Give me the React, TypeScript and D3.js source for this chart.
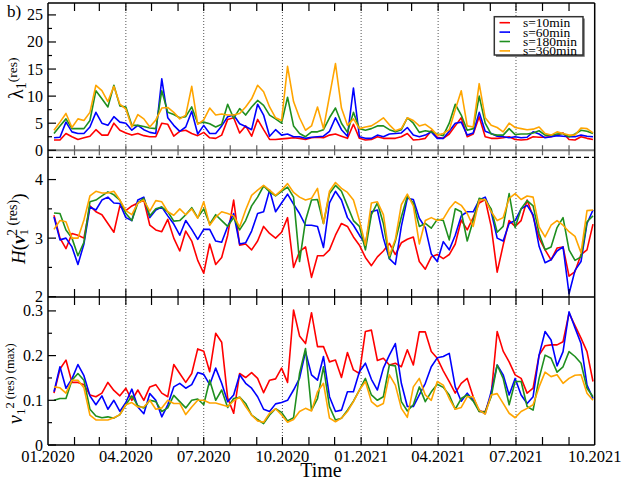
import React from 'react';
import * as d3 from 'd3';

// weekly samples starting 08.01.2020
const START = Date.UTC(2020, 0, 8);
const STEP = 7 * 864e5;

// panel 1: lambda_1^(res)
const lambdaRed = [1.9,1.9,3.1,2.5,2.0,2.3,2.6,3.8,2.8,2.8,
  5.0,3.7,3.2,2.8,3.1,2.7,2.5,2.5,5.0,4.8,
  2.6,3.5,3.7,3.1,2.7,3.3,2.3,2.2,2.8,5.7,
  6.0,3.2,4.5,2.6,5.7,3.8,2.0,2.0,2.1,2.2,
  2.3,2.2,2.0,2.3,2.4,2.3,2.8,3.0,2.6,2.2,
  4.8,2.2,1.9,2.0,2.5,2.2,2.2,2.2,2.5,3.1,
  1.9,2.0,2.2,3.6,2.4,2.2,3.0,4.5,6.0,2.5,
  3.0,6.2,2.5,2.2,2.2,2.3,2.5,2.0,1.9,2.0,
  2.5,2.4,2.4,2.5,2.8,3.2,2.0,1.9,2.5,2.2,
  2.0];
const lambdaBlue = [2.3,2.4,5.2,3.4,3.1,3.1,4.3,7.0,5.0,4.6,
  6.2,5.2,5.0,3.7,4.6,3.8,3.3,3.1,13.2,6.0,
  4.6,3.5,4.3,7.2,3.0,4.6,3.1,3.1,4.5,6.2,
  6.5,4.9,4.4,3.8,8.5,6.5,2.6,3.8,2.8,3.0,
  2.5,2.5,2.2,2.4,2.5,2.6,3.5,6.0,3.8,2.6,
  11.5,2.5,2.2,2.2,2.8,2.5,3.0,3.1,3.2,4.2,
  2.8,2.5,2.8,3.4,2.2,2.2,3.5,5.0,5.2,2.8,
  3.2,7.0,3.5,3.1,2.6,2.5,2.3,2.5,2.3,2.4,
  3.4,3.0,2.3,2.5,2.7,2.6,2.5,2.5,2.8,2.6,
  2.5];
const lambdaGreen = [3.1,4.5,5.8,4.0,4.0,4.0,5.5,11.0,9.5,8.0,
  12.0,8.2,8.0,4.6,4.6,4.4,4.1,4.0,11.0,7.0,
  6.6,6.0,6.2,8.0,5.0,5.2,4.9,4.3,4.8,8.5,
  5.9,7.7,6.5,8.0,9.2,8.3,6.5,5.8,5.0,9.8,
  4.5,3.1,2.5,3.4,3.4,3.8,6.0,7.8,5.0,3.3,
  7.0,4.0,3.7,4.0,4.5,4.5,3.8,3.4,3.8,6.0,
  5.0,3.3,3.6,3.4,3.0,2.7,5.0,8.5,6.5,3.7,
  4.0,10.0,5.0,3.0,2.8,2.8,4.0,2.9,3.0,3.0,
  3.2,3.6,2.8,2.8,3.0,3.1,2.5,3.0,3.7,3.5,
  3.1];
const lambdaOrange = [3.7,5.2,6.8,4.2,5.8,5.5,7.0,12.0,11.0,9.0,
  11.8,8.5,7.6,4.3,6.6,5.8,4.3,5.6,7.8,7.9,
  7.0,5.8,6.5,11.8,4.8,5.6,7.8,6.5,6.7,6.5,
  6.5,6.8,8.0,9.5,12.0,10.8,8.0,6.0,5.5,15.5,
  9.0,6.0,3.7,4.5,8.0,4.0,10.0,16.0,7.8,4.6,
  5.8,4.0,4.3,4.5,5.2,6.0,4.7,3.6,4.0,6.0,
  5.5,4.5,4.8,4.0,2.8,3.1,3.8,7.5,11.0,4.5,
  4.3,12.3,6.0,4.6,4.2,3.4,5.0,4.2,4.0,3.8,
  3.9,4.3,3.1,2.8,3.4,3.1,2.8,2.8,4.1,4.0,
  3.2];

// panel 2: H(v_1^2 (res))
const hRed = [3.39,3.0,2.82,3.08,3.05,3.0,3.55,3.45,3.4,3.25,
  3.1,3.55,3.47,3.55,3.6,3.65,3.22,3.14,3.11,3.32,
  3.0,2.78,3.12,2.95,2.62,2.4,2.9,2.55,2.67,3.05,
  3.65,2.88,2.9,2.8,2.95,3.2,3.08,3.0,3.1,3.35,
  2.5,2.77,2.85,2.33,2.7,2.7,2.8,3.05,3.25,3.2,
  3.02,2.88,2.67,2.53,2.68,2.78,2.91,2.72,2.92,2.98,
  3.02,2.6,2.47,2.68,2.72,2.65,2.72,2.9,3.31,3.14,
  3.35,3.6,3.66,3.2,2.42,2.88,3.3,3.2,3.3,3.65,
  3.37,3.0,2.8,2.63,2.83,2.85,2.35,2.43,2.72,2.8,
  3.24];
const hBlue = [3.36,2.97,3.0,2.85,2.55,2.9,3.53,3.48,3.65,3.7,
  3.6,3.59,3.35,3.3,3.65,3.7,3.35,3.48,3.53,3.38,
  3.24,3.05,3.3,3.15,2.98,3.15,3.15,2.95,2.93,3.2,
  3.42,2.9,2.92,3.12,3.42,3.45,3.82,3.45,3.6,3.75,
  3.58,3.42,3.22,3.22,3.2,2.84,3.6,3.8,3.65,3.35,
  3.22,3.05,2.9,3.45,3.48,3.0,2.65,2.55,3.2,3.68,
  3.66,3.34,3.18,2.73,2.6,2.94,2.8,3.05,3.38,3.45,
  3.45,3.65,3.7,3.45,3.0,2.95,3.25,3.3,3.5,3.56,
  3.4,2.86,2.58,2.63,2.78,2.85,2.05,2.45,2.6,3.25,
  3.48];
const hGreen = [3.43,3.42,3.14,3.0,2.7,2.93,3.62,3.65,3.72,3.79,
  3.74,3.65,3.42,3.3,3.6,3.68,3.38,3.5,3.53,3.45,
  3.29,3.3,3.4,3.52,3.35,3.5,3.24,3.4,3.3,3.2,
  3.35,3.14,3.3,3.55,3.7,3.89,3.79,3.72,3.8,3.87,
  3.7,2.6,3.3,3.65,3.66,3.25,3.76,3.9,3.8,3.55,
  3.3,3.2,2.8,3.4,3.6,3.25,2.65,2.95,3.36,3.72,
  3.6,3.2,3.25,3.17,3.32,3.3,2.97,3.5,3.45,2.95,
  3.3,3.68,3.65,3.5,3.1,3.2,3.76,3.18,3.5,3.64,
  3.55,3.08,2.8,2.85,3.18,3.35,2.8,2.62,2.68,3.28,
  3.38];
const hOrange = [3.15,3.3,3.28,3.0,3.0,3.31,3.72,3.8,3.77,3.77,
  3.8,3.65,3.47,3.4,3.6,3.65,3.46,3.64,3.62,3.45,
  3.39,3.5,3.4,3.5,3.34,3.62,3.22,3.36,3.45,3.42,
  3.38,3.19,3.48,3.73,3.82,3.9,3.82,3.73,3.82,3.93,
  3.78,3.7,3.65,3.68,3.85,3.25,3.8,3.95,3.85,3.78,
  3.65,3.3,2.88,3.6,3.62,3.4,2.7,2.98,3.57,3.75,
  3.55,2.9,3.3,3.35,3.3,3.33,3.5,3.62,3.56,3.42,
  3.2,3.65,3.66,3.45,3.3,3.35,3.68,3.76,3.66,3.72,
  3.7,3.19,3.02,3.22,3.3,3.22,3.11,3.03,2.75,3.47,
  3.48];

// panel 3: v_1^2 (res) (max)
const vRed = [0.116,0.17,0.19,0.14,0.14,0.135,0.112,0.108,0.116,0.14,
  0.122,0.11,0.127,0.1,0.123,0.1,0.13,0.135,0.116,0.108,
  0.18,0.16,0.14,0.16,0.215,0.21,0.164,0.25,0.23,0.105,
  0.071,0.16,0.151,0.162,0.149,0.117,0.145,0.148,0.172,0.14,
  0.302,0.244,0.227,0.296,0.22,0.22,0.186,0.19,0.151,0.207,
  0.168,0.16,0.254,0.257,0.189,0.194,0.179,0.183,0.175,0.213,
  0.179,0.253,0.253,0.209,0.194,0.166,0.142,0.116,0.138,0.149,
  0.108,0.075,0.075,0.112,0.254,0.21,0.186,0.157,0.149,0.116,
  0.127,0.201,0.222,0.224,0.224,0.231,0.295,0.267,0.239,0.209,
  0.142];
const vBlue = [0.119,0.175,0.127,0.148,0.18,0.155,0.11,0.09,0.11,0.08,
  0.1,0.075,0.095,0.125,0.085,0.07,0.115,0.1,0.063,0.09,
  0.13,0.138,0.127,0.135,0.162,0.158,0.135,0.172,0.138,0.097,
  0.112,0.157,0.138,0.127,0.108,0.08,0.075,0.092,0.095,0.1,
  0.123,0.149,0.209,0.157,0.145,0.198,0.108,0.075,0.078,0.119,
  0.119,0.164,0.183,0.147,0.123,0.172,0.201,0.227,0.138,0.086,
  0.086,0.112,0.138,0.175,0.195,0.198,0.205,0.13,0.098,0.116,
  0.1,0.078,0.07,0.119,0.179,0.157,0.112,0.149,0.112,0.093,
  0.108,0.201,0.254,0.235,0.177,0.209,0.298,0.262,0.227,0.134,
  0.104];
const vGreen = [0.1,0.104,0.104,0.145,0.16,0.145,0.08,0.065,0.061,0.063,
  0.06,0.068,0.09,0.11,0.088,0.083,0.1,0.097,0.075,0.083,
  0.111,0.097,0.083,0.1,0.103,0.09,0.145,0.1,0.123,0.084,
  0.104,0.107,0.093,0.067,0.057,0.048,0.067,0.081,0.073,0.054,
  0.061,0.16,0.216,0.078,0.104,0.175,0.086,0.056,0.06,0.078,
  0.098,0.123,0.149,0.112,0.1,0.108,0.179,0.177,0.097,0.076,
  0.09,0.13,0.097,0.119,0.136,0.129,0.112,0.08,0.104,0.112,
  0.098,0.075,0.074,0.108,0.179,0.149,0.09,0.142,0.142,0.086,
  0.078,0.149,0.201,0.194,0.163,0.175,0.209,0.198,0.183,0.127,
  0.108];
const vOrange = [0.13,0.128,0.116,0.145,0.145,0.128,0.067,0.056,0.056,0.056,
  0.061,0.068,0.09,0.095,0.085,0.085,0.1,0.08,0.083,0.1,
  0.093,0.093,0.068,0.085,0.1,0.1,0.094,0.094,0.09,0.086,
  0.099,0.107,0.086,0.067,0.054,0.051,0.071,0.081,0.067,0.051,
  0.057,0.075,0.082,0.076,0.119,0.138,0.06,0.052,0.06,0.075,
  0.097,0.123,0.142,0.097,0.086,0.093,0.157,0.134,0.082,0.062,
  0.13,0.149,0.112,0.1,0.142,0.134,0.104,0.08,0.084,0.108,
  0.108,0.078,0.069,0.112,0.115,0.093,0.071,0.061,0.075,0.082,
  0.09,0.13,0.163,0.153,0.157,0.138,0.149,0.156,0.157,0.116,
  0.1];

const seriesNames = ['s=10min', 's=60min', 's=180min', 's=360min'];
const seriesColors = ['#ff0000', '#0000ff', '#1f8f1f', '#ffa500'];

const L = 48, R = 594.7;
const FONT = "'Liberation Serif', 'DejaVu Serif', serif";

const dates = lambdaRed.map((_, i) => new Date(START + i * STEP));

const x = d3.scaleUtc()
  .domain([new Date(Date.UTC(2020, 0, 1)), new Date(Date.UTC(2021, 9, 1))])
  .range([L, R]);

const panels = [
  {
    id: 'p1', top: 3, bottom: 157.3,
    y: d3.scaleLinear().domain([-1.3, 27.2]).range([157.3, 3]),
    major: [0, 5, 10, 15, 20, 25], minor: [2.5, 7.5, 12.5, 17.5, 22.5],
    data: [lambdaRed, lambdaBlue, lambdaGreen, lambdaOrange],
  },
  {
    id: 'p2', top: 157.3, bottom: 296.7,
    y: d3.scaleLinear().domain([2, 4.38]).range([296.7, 157.3]),
    major: [2, 3, 4], minor: [2.5, 3.5],
    data: [hRed, hBlue, hGreen, hOrange],
  },
  {
    id: 'p3', top: 297.5, bottom: 445,
    y: d3.scaleLinear().domain([0, 0.33]).range([445, 297.5]),
    major: [0, 0.1, 0.2, 0.3], minor: [0.05, 0.15, 0.25],
    data: [vRed, vBlue, vGreen, vOrange],
  },
];

const months = d3.utcMonth.range(new Date(Date.UTC(2020, 1, 1)), new Date(Date.UTC(2021, 9, 1)));
const quarters = d3.utcMonth.every(3)!.range(new Date(Date.UTC(2020, 0, 1)), new Date(Date.UTC(2021, 9, 2)));
const fmtQ = d3.utcFormat('%m.%Y');

export default function App() {
  const zeroY = panels[0].y(0);
  return (
    <svg width={623} height={480} style={{ position: 'absolute', left: 0, top: 0 }} fontFamily={FONT}>
      <rect width={623} height={480} fill="#fff" />
      <defs>
        {panels.map((p) => (
          <clipPath id={`clip-${p.id}`} key={p.id}>
            <rect x={L} y={p.top} width={R - L} height={p.bottom - p.top} />
          </clipPath>
        ))}
      </defs>

      {/* quarterly dotted grid */}
      {quarters.slice(1, -1).map((q) => (
        <line key={+q} x1={x(q)} x2={x(q)} y1={3} y2={445} stroke="#555" strokeWidth={1} strokeDasharray="1,2" />
      ))}

      {/* zero line and separator of panel 1 */}
      <line x1={L} x2={R} y1={zeroY} y2={zeroY} stroke="#808080" strokeWidth={2.2} />
      <line x1={L} x2={R} y1={157.3} y2={157.3} stroke="#000" strokeWidth={1.2} strokeDasharray="5,3" />

      {/* data */}
      {panels.map((p) => {
        const line = d3.line<number>().x((_, i) => x(dates[i])).y((d) => p.y(d));
        return (
          <g key={p.id} clipPath={`url(#clip-${p.id})`}>
            {p.data.map((vals, si) => (
              <path key={si} d={line(vals) || ''} fill="none" stroke={seriesColors[si]} strokeWidth={1.6} strokeLinejoin="round" />
            ))}
          </g>
        );
      })}

      {/* frame */}
      <g stroke="#000" strokeWidth={1.5} fill="none">
        <line x1={L} x2={L} y1={3} y2={445} />
        <line x1={R} x2={R} y1={3} y2={445} />
        <line x1={L} x2={R} y1={3} y2={3} />
        <line x1={L} x2={R} y1={297.1} y2={297.1} />
        <line x1={L} x2={R} y1={445} y2={445} />
      </g>

      {/* x ticks */}
      <g stroke="#000" strokeWidth={1.2}>
        {months.map((m) => {
          const xx = x(m);
          return (
            <g key={+m}>
              <line x1={xx} x2={xx} y1={3} y2={11} />
              <line x1={xx} x2={xx} y1={zeroY - 5} y2={zeroY + 5} stroke="#606060" />
              <line x1={xx} x2={xx} y1={297} y2={289} />
              <line x1={xx} x2={xx} y1={297} y2={305} />
              <line x1={xx} x2={xx} y1={445} y2={437} />
            </g>
          );
        })}
      </g>

      {/* x tick labels */}
      {quarters.map((q) => (
        <text key={+q} x={x(q)} y={462} fontSize={16.5} textAnchor="middle">{fmtQ(q)}</text>
      ))}
      <text x={321} y={477} fontSize={20} textAnchor="middle">Time</text>

      {/* y ticks */}
      {panels.map((p) => (
        <g key={p.id}>
          {p.major.map((v) => (
            <g key={v}>
              <line x1={L} x2={L + 8} y1={p.y(v)} y2={p.y(v)} stroke="#000" strokeWidth={1.2} />
              <text x={43} y={p.y(v) + 5.5} fontSize={16} textAnchor="end">{String(v)}</text>
            </g>
          ))}
          {p.minor.map((v) => (
            <line key={v} x1={L} x2={L + 4} y1={p.y(v)} y2={p.y(v)} stroke="#000" strokeWidth={1.2} />
          ))}
        </g>
      ))}

      {/* y axis labels */}
      <text transform="translate(23,99) rotate(-90)" fontSize={20}>
        λ<tspan fontSize={14} dy={3}>1</tspan><tspan fontSize={13.5} dy={-9}>(res)</tspan>
      </text>
      <text transform="translate(25,264) rotate(-90)" fontSize={19}>
        <tspan fontStyle="italic">H</tspan>(<tspan fontStyle="italic" fontWeight="bold">v</tspan>
        <tspan fontSize={13} dy={3}>1</tspan>
        <tspan fontSize={14} dx={-7} dy={-11}>2 (res)</tspan>
        <tspan dy={8}>)</tspan>
      </text>
      <text transform="translate(22,424) rotate(-90)" fontSize={20}>
        <tspan fontStyle="italic">v</tspan>
        <tspan fontSize={13} dy={3}>1</tspan>
        <tspan fontSize={12.5} dy={-11}>2 (res) (max)</tspan>
      </text>

      <text x={7} y={17} fontSize={17}>b)</text>

      {/* legend */}
      <g>
        <rect x={496} y={18.5} width={88.7} height={38.3} fill="#666" />
        <rect x={494.3} y={16.7} width={88.7} height={38.3} fill="#fff" stroke="#333" strokeWidth={1.5} />
        {seriesNames.map((n, i) => {
          const yy = 22.7 + i * 9.4;
          return (
            <g key={n}>
              <line x1={499.5} x2={510} y1={yy} y2={yy} stroke={seriesColors[i]} strokeWidth={1.6} />
              <text x={523} y={yy + 4.5} fontSize={13.5}>{n}</text>
            </g>
          );
        })}
      </g>
    </svg>
  );
}
